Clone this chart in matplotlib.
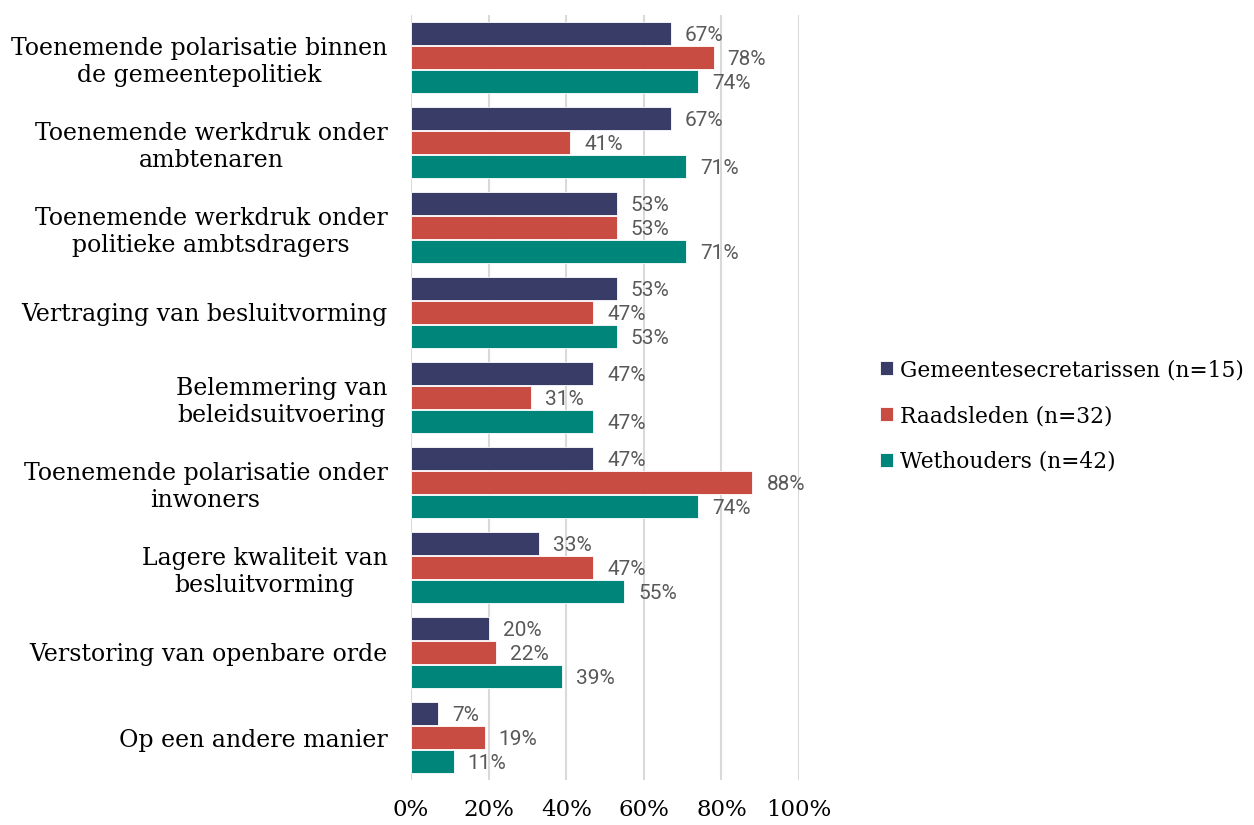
import matplotlib
matplotlib.use("Agg")
import matplotlib.pyplot as plt
import numpy as np

categories = [
    "Toenemende polarisatie binnen\nde gemeentepolitiek",
    "Toenemende werkdruk onder\nambtenaren",
    "Toenemende werkdruk onder\npolitieke ambtsdragers",
    "Vertraging van besluitvorming",
    "Belemmering van\nbeleidsuitvoering",
    "Toenemende polarisatie onder\ninwoners",
    "Lagere kwaliteit van\nbesluitvorming",
    "Verstoring van openbare orde",
    "Op een andere manier",
]
secretarissen = [67, 67, 53, 53, 47, 47, 33, 20, 7]
raadsleden = [78, 41, 53, 47, 31, 88, 47, 22, 19]
wethouders = [74, 71, 71, 53, 47, 74, 55, 39, 11]
series_names = ["Gemeentesecretarissen (n=15)", "Raadsleden (n=32)", "Wethouders (n=42)"]
colors = ["#3a3c68", "#c94c43", "#00857a"]

serif = "DejaVu Serif"

fig = plt.figure(figsize=(12.54, 8.25), dpi=100)
ax = fig.add_axes([411 / 1254, 1 - 780 / 825, (799 - 411) / 1254, 765 / 825])

y = np.arange(len(categories))
h = 0.27
offsets = [-0.283, 0, 0.283]
for vals, off, col, name in zip([secretarissen, raadsleden, wethouders], offsets, colors, series_names):
    bars = ax.barh(y + off, np.array(vals) / 100, height=h, color=col,
                   edgecolor="white", linewidth=0.6, label=name, zorder=3)
    for b, v in zip(bars, vals):
        ax.text(b.get_width() + 0.036, b.get_y() + b.get_height() / 2 + 0.02, f"{v}%",
                va="center", ha="left", fontsize=15, color="#595959",
                family="Roboto")

ax.set_xlim(0, 1.0)
ax.set_ylim(8.5, -0.5)
ax.set_xticks(np.arange(0, 1.01, 0.2))
ax.set_xticklabels([f"{int(t * 100)}%" for t in np.arange(0, 1.01, 0.2)],
                   fontsize=16.5, family=serif)
ax.set_yticks(y)
ax.set_yticklabels(categories, fontsize=17, family=serif, multialignment="center")
ax.tick_params(axis="both", length=0)
ax.tick_params(axis="x", pad=14)
ax.tick_params(axis="y", pad=17)
ax.grid(axis="x", color="#d9d9d9", linewidth=1.5, zorder=0)
for s in ax.spines.values():
    s.set_visible(False)

leg = fig.legend(loc="center left", bbox_to_anchor=(860 / 1254, 1 - 416 / 825),
                 frameon=False, prop={"family": serif, "size": 15.7},
                 handlelength=0.6, handleheight=0.6, handletextpad=0.35,
                 labelspacing=1.1)

fig.savefig("out.png", dpi=100)
